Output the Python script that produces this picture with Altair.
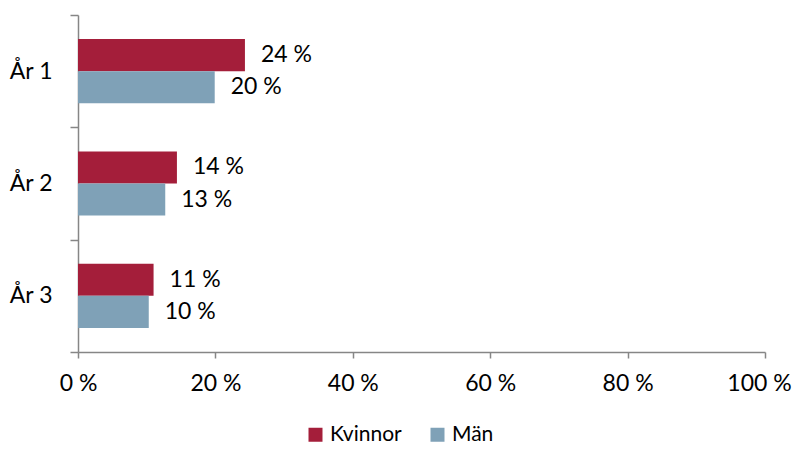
import altair as alt
import pandas as pd

years = ["År 1", "År 2", "År 3"]
series = ["Kvinnor", "Män"]
kvinnor = [24.3, 14.4, 11.0]
man = [19.9, 12.7, 10.3]
kvinnor_labels = [24, 14, 11]
man_labels = [20, 13, 10]
colors = ["#A41E3A", "#7FA1B7"]
x_ticks = [0, 20, 40, 60, 80, 100]

rows = []
for i, y in enumerate(years):
    rows.append({"year": y, "series": "Kvinnor", "value": kvinnor[i], "lab": kvinnor_labels[i]})
    rows.append({"year": y, "series": "Män", "value": man[i], "lab": man_labels[i]})
df = pd.DataFrame(rows)

FONT = "Lato"
FS = 23
AXC = "#868686"

base = alt.Chart(df).transform_calculate(
    label="datum.lab + ' %'"
).encode(
    y=alt.Y(
        "year:N",
        sort=years,
        scale=alt.Scale(paddingInner=0, paddingOuter=0),
        axis=alt.Axis(
            title=None, tickBand="extent", tickSize=8, tickColor=AXC,
            domainColor=AXC, domainWidth=1.5, tickWidth=1.5,
            labelFontSize=FS, labelColor="black", labelFont=FONT,
            labelPadding=18,
        ),
    ),
    yOffset=alt.YOffset(
        "series:N", sort=series,
        scale=alt.Scale(paddingOuter=0.75, paddingInner=0),
    ),
    x=alt.X(
        "value:Q",
        scale=alt.Scale(domain=[0, 100], nice=False),
        axis=alt.Axis(
            title=None, values=x_ticks, labelExpr="datum.value + ' %'",
            tickSize=6, tickColor=AXC, domainColor=AXC, domainWidth=1.5,
            tickWidth=1.5, grid=False, labelFontSize=FS, labelColor="black",
            labelFont=FONT, labelPadding=14, labelFlush=False,
            labelOffset={"condition": {"test": "datum.value === 100", "value": -6}, "value": 0},
        ),
    ),
)

bars = base.mark_bar().encode(
    color=alt.Color(
        "series:N",
        sort=series,
        scale=alt.Scale(domain=series, range=colors),
        legend=alt.Legend(
            orient="none", legendX=227, legendY=409, direction="horizontal",
            title=None, symbolType="square", symbolSize=196,
            symbolStrokeWidth=0, labelFontSize=21, labelFont=FONT,
            labelColor="black", columnPadding=25, labelOffset=4,
        ),
    )
)

texts = base.mark_text(
    align="left", baseline="middle", dx=16, fontSize=FS, font=FONT, color="black"
).encode(text="label:N")

chart = (
    alt.layer(bars, texts)
    .properties(
        width=687,
        height=337,
        autosize=alt.AutoSizeParams(type="none"),
        padding={"left": 70, "top": 7, "right": 27, "bottom": 96},
    )
    .configure_view(stroke=None)
)

chart.save("out.html", embed_options={"renderer": "svg", "actions": False})
